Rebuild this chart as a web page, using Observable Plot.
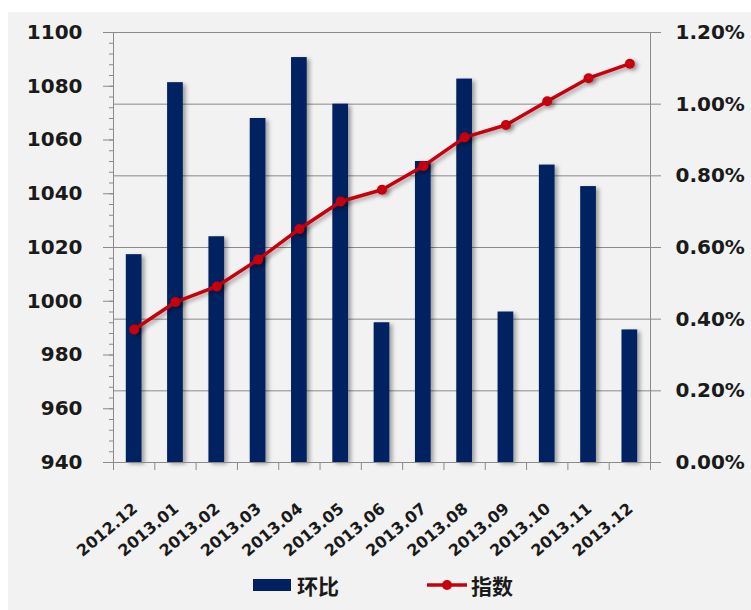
<!DOCTYPE html>
<html>
<head>
<meta charset="utf-8">
<script src="https://cdn.jsdelivr.net/npm/d3@7"></script>
<script src="https://cdn.jsdelivr.net/npm/@observablehq/plot@0.6"></script>
<style>
  html, body { margin: 0; padding: 0; background: #ffffff; }
  #wrap { position: absolute; left: 8px; top: 12px; width: 743px; height: 598px; background: #f2f2f2; }
  #chart svg { display: block; }
  .leg { position: absolute; font-family: "Noto Sans CJK SC", sans-serif; font-weight: bold; font-size: 21px; color: #1a1a1a; line-height: 24px; }
</style>
</head>
<body>
<div id="wrap">
  <div id="chart"></div>
  <div id="legend"></div>
</div>
<script>
const months = ["2012.12","2013.01","2013.02","2013.03","2013.04","2013.05","2013.06","2013.07","2013.08","2013.09","2013.10","2013.11","2013.12"];
const changePct = [0.58, 1.06, 0.63, 0.96, 1.13, 1.00, 0.39, 0.84, 1.07, 0.42, 0.83, 0.77, 0.37];
const indexValues = [989.5, 999.7, 1005.5, 1015.5, 1026.9, 1037.1, 1041.5, 1050.3, 1061.0, 1065.6, 1074.4, 1083.0, 1088.4];
const leftTicks = [940, 960, 980, 1000, 1020, 1040, 1060, 1080, 1100];
const rightTicks = [0, 0.2, 0.4, 0.6, 0.8, 1.0, 1.2];
const seriesNames = ["环比", "指数"];

const yMin = 940, yMax = 1100, pctMax = 1.2;
const toLeft = p => yMin + p * (yMax - yMin) / pctMax;

const data = months.map((m, i) => ({i, month: m, pct: changePct[i], idx: indexValues[i]}));
const minorTicks = d3.range(yMin, yMax + 0.001, 4);
const boundaries = d3.range(0, months.length + 1);

const navy = "#002060";
const red = "#c8000a";
const grid = "#8a8a8a";
const font = "DejaVu Sans, Verdana, sans-serif";

const chart = Plot.plot({
  width: 743,
  height: 533,
  marginLeft: 105,
  marginRight: 101,
  marginTop: 20,
  marginBottom: 83,
  style: {background: "transparent", fontFamily: font, fontWeight: "bold", color: "#1a1a1a", overflow: "visible"},
  x: {type: "linear", domain: [0, months.length]},
  y: {domain: [yMin, yMax]},
  marks: [
    Plot.gridY(rightTicks.map(toLeft), {stroke: grid, strokeOpacity: 1, strokeWidth: 1}),
    Plot.rectY(data, {x1: d => d.i + 0.31, x2: d => d.i + 0.69, y1: yMin, y2: d => toLeft(d.pct), fill: navy}),
    Plot.line(data, {x: d => d.i + 0.5, y: "idx", stroke: red, strokeWidth: 3.5}),
    Plot.dot(data, {x: d => d.i + 0.5, y: "idx", r: 5, fill: red, stroke: "none"}),
    Plot.ruleX([0, months.length], {stroke: grid, strokeWidth: 1}),
    Plot.ruleY([yMin], {stroke: grid, strokeWidth: 1}),
    Plot.axisY({anchor: "left", ticks: minorTicks, tickSize: 4, tickFormat: () => "", stroke: grid, label: null}),
    Plot.axisY({anchor: "left", ticks: leftTicks, tickSize: 10, tickPadding: 21, tickFormat: d => String(d), stroke: grid, fill: "#1a1a1a", fontSize: 20, fontWeight: "bold", label: null}),
    Plot.axisY({anchor: "right", ticks: rightTicks.map(toLeft), tickSize: 10, tickPadding: 15, tickFormat: (d, k) => rightTicks[k].toFixed(2) + "%", stroke: grid, fill: "#1a1a1a", fontSize: 20, fontWeight: "bold", label: null}),
    Plot.axisX({ticks: boundaries, tickSize: 8, tickFormat: () => "", stroke: grid, label: null}),
    Plot.text(data, {x: d => d.i + 0.5, text: "month", frameAnchor: "bottom", dy: 44, dx: 1, rotate: -40, textAnchor: "end", lineAnchor: "middle", fill: "#1a1a1a", fontSize: 16, fontWeight: "bold"})
  ]
});

// soft drop shadows like the original
const svg = d3.select(chart);
const defs = svg.insert("defs", ":first-child");
const f = defs.append("filter").attr("id", "shadow")
  .attr("filterUnits", "userSpaceOnUse").attr("x", 0).attr("y", 0).attr("width", 743).attr("height", 533);
f.append("feGaussianBlur").attr("in", "SourceAlpha").attr("stdDeviation", 2).attr("result", "blur");
f.append("feOffset").attr("in", "blur").attr("dx", 3).attr("dy", 2).attr("result", "off");
f.append("feComponentTransfer").attr("in", "off").attr("result", "soft")
  .append("feFuncA").attr("type", "linear").attr("slope", 0.35);
const merge = f.append("feMerge");
merge.append("feMergeNode").attr("in", "soft");
merge.append("feMergeNode").attr("in", "SourceGraphic");
svg.selectAll('g[aria-label="rect"], g[aria-label="line"], g[aria-label="dot"]').attr("filter", "url(#shadow)");

document.getElementById("chart").appendChild(chart);

// legend (below the svg); positions relative to #wrap
const legend = document.getElementById("legend");
legend.innerHTML = `
  <div style="position:absolute;left:245px;top:567px;width:38px;height:12px;background:${navy}"></div>
  <div class="leg" style="left:289px;top:561px;">${seriesNames[0]}</div>
  <svg style="position:absolute;left:419px;top:563px" width="42" height="20">
    <line x1="0" y1="10" x2="40" y2="10" stroke="${red}" stroke-width="3.5"/>
    <circle cx="20" cy="10" r="5" fill="${red}"/>
  </svg>
  <div class="leg" style="left:463px;top:561px;">${seriesNames[1]}</div>
`;
</script>
</body>
</html>
